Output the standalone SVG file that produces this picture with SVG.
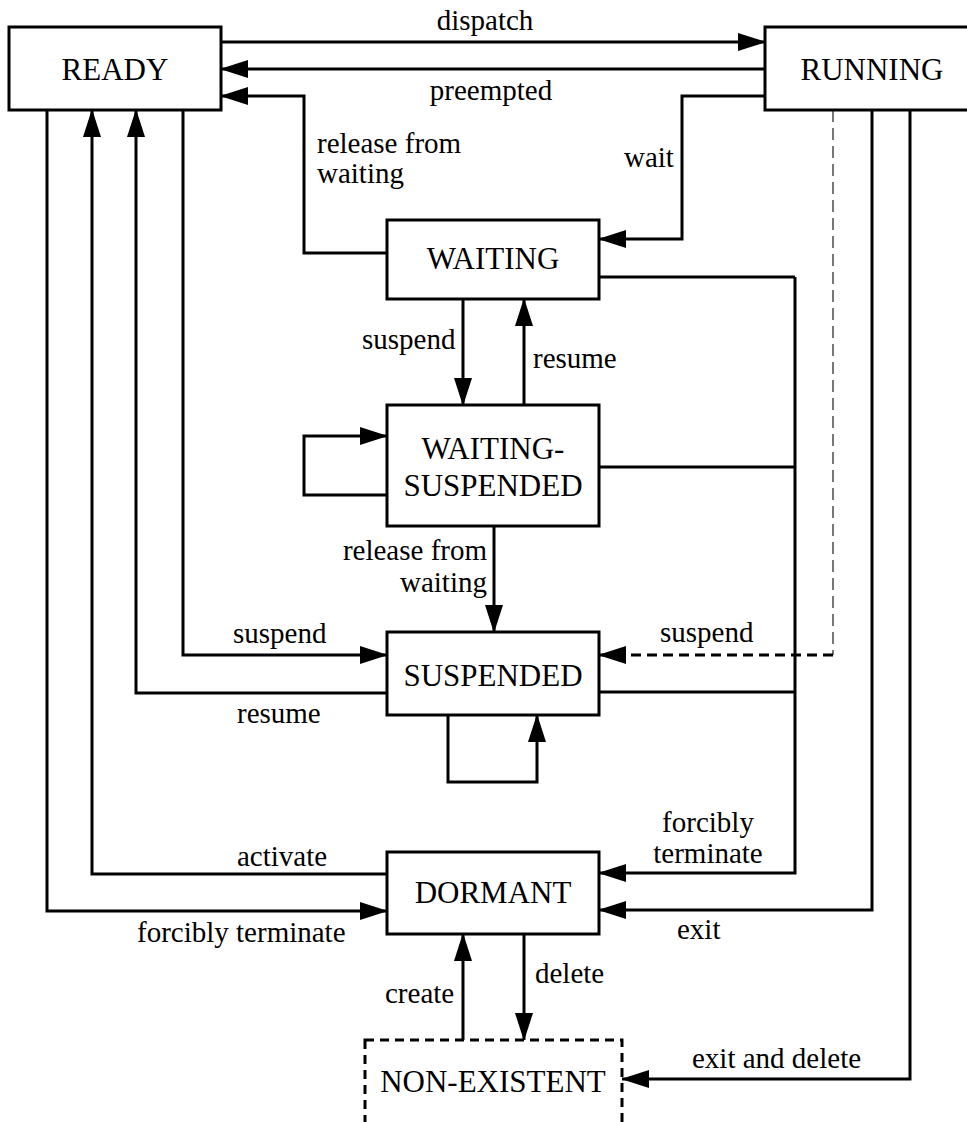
<svg xmlns="http://www.w3.org/2000/svg" width="967" height="1122" viewBox="0 0 967 1122">
  <style>
    .box { fill: #fff; stroke: #000; stroke-width: 3; }
    .ghost { fill: #fff; stroke: #000; stroke-width: 3; stroke-dasharray: 9 6; }
    text { font-family: 'Liberation Serif', 'Times New Roman', Times, 'DejaVu Serif', serif; fill: #000; }
    .name { font-size: 31px; text-anchor: middle; }
    .lbl { font-size: 29px; }
    .mid { text-anchor: middle; }
    .end { text-anchor: end; }
    .edge { fill: none; stroke: #000; stroke-width: 3; }
    .arr { marker-end: url(#head); }
    .dash { stroke-dasharray: 10 6; }
    .dash-v { fill: none; stroke: #777; stroke-width: 2; stroke-dasharray: 12 6; }
  </style>
  <defs>
    <marker id="head" markerUnits="userSpaceOnUse" markerWidth="28" markerHeight="18" refX="27" refY="9" orient="auto">
      <path d="M0,0 L28,9 L0,18 Z" fill="#000"/>
    </marker>
  </defs>

  <rect width="967" height="1122" fill="#fff"/>

  <!-- transitions -->
  <g id="connectors">
    <!-- READY <-> RUNNING -->
    <path class="edge arr" d="M221,42 H765"/>
    <path class="edge arr" d="M765,69 H221"/>
    <!-- WAITING -> READY -->
    <path class="edge arr" d="M387,253 H304 V96 H221"/>
    <!-- RUNNING -> WAITING -->
    <path class="edge arr" d="M765,96 H682 V239 H599"/>
    <!-- forced termination bus to DORMANT -->
    <path class="edge" d="M599,277 H795"/>
    <path class="edge" d="M599,467 H795"/>
    <path class="edge" d="M599,692 H795"/>
    <path class="edge arr" d="M795,277 V873 H599"/>
    <!-- WAITING <-> WAITING-SUSPENDED -->
    <path class="edge arr" d="M463,299 V405"/>
    <path class="edge arr" d="M524,405 V299"/>
    <!-- WAITING-SUSPENDED self loop -->
    <path class="edge arr" d="M387,495 H304 V436 H387"/>
    <!-- WAITING-SUSPENDED -> SUSPENDED -->
    <path class="edge arr" d="M494,526 V632"/>
    <!-- READY <-> SUSPENDED -->
    <path class="edge arr" d="M183,110 V655 H387"/>
    <path class="edge arr" d="M387,693 H136 V110"/>
    <!-- DORMANT <-> READY -->
    <path class="edge arr" d="M387,874 H92 V110"/>
    <path class="edge arr" d="M47,110 V911 H387"/>
    <!-- RUNNING -> SUSPENDED (dashed) -->
    <path class="dash-v" d="M833,110 V655"/>
    <path class="edge arr dash" d="M833,655 H599"/>
    <!-- SUSPENDED self loop -->
    <path class="edge arr" d="M448,715 V782 H537 V715"/>
    <!-- RUNNING -> DORMANT / NON-EXISTENT -->
    <path class="edge arr" d="M872,110 V910 H599"/>
    <path class="edge arr" d="M910,110 V1079 H622"/>
    <!-- DORMANT <-> NON-EXISTENT -->
    <path class="edge arr" d="M463,1040 V934"/>
    <path class="edge arr" d="M524,934 V1040"/>
  </g>

  <g id="ready">
    <rect class="box" x="9" y="27" width="212" height="83"/>
    <text class="name" x="115" y="80">READY</text>
  </g>
  <g id="running">
    <rect class="box" x="765" y="27" width="215" height="83"/>
    <text class="name" x="872" y="80">RUNNING</text>
  </g>
  <g id="waiting">
    <rect class="box" x="387" y="220" width="212" height="79"/>
    <text class="name" x="493" y="269">WAITING</text>
  </g>
  <g id="waiting-suspended">
    <rect class="box" x="387" y="405" width="212" height="121"/>
    <text class="name" x="493" y="459">WAITING-</text>
    <text class="name" x="493" y="496">SUSPENDED</text>
  </g>
  <g id="suspended">
    <rect class="box" x="387" y="632" width="212" height="83"/>
    <text class="name" x="493" y="686">SUSPENDED</text>
  </g>
  <g id="dormant">
    <rect class="box" x="387" y="852" width="212" height="82"/>
    <text class="name" x="493" y="903">DORMANT</text>
  </g>
  <g id="non-existent">
    <rect class="ghost" x="365" y="1040" width="257" height="100"/>
    <text class="name" x="493" y="1092">NON-EXISTENT</text>
  </g>

  <!-- transition labels -->
  <g id="labels">
    <text class="lbl mid" x="485" y="30">dispatch</text>
    <text class="lbl mid" x="491" y="100">preempted</text>
    <text class="lbl" x="317" y="153">release from</text>
    <text class="lbl" x="317" y="183">waiting</text>
    <text class="lbl" x="624" y="167">wait</text>
    <text class="lbl" x="362" y="349">suspend</text>
    <text class="lbl" x="533" y="368">resume</text>
    <text class="lbl end" x="487" y="560">release from</text>
    <text class="lbl end" x="487" y="592">waiting</text>
    <text class="lbl" x="233" y="643">suspend</text>
    <text class="lbl" x="237" y="723">resume</text>
    <text class="lbl" x="660" y="642">suspend</text>
    <text class="lbl" x="237" y="866">activate</text>
    <text class="lbl" x="137" y="942">forcibly terminate</text>
    <text class="lbl mid" x="708" y="832">forcibly</text>
    <text class="lbl mid" x="708" y="863">terminate</text>
    <text class="lbl" x="677" y="939">exit</text>
    <text class="lbl" x="385" y="1003">create</text>
    <text class="lbl" x="535" y="983">delete</text>
    <text class="lbl" x="692" y="1068">exit and delete</text>
  </g>
</svg>
